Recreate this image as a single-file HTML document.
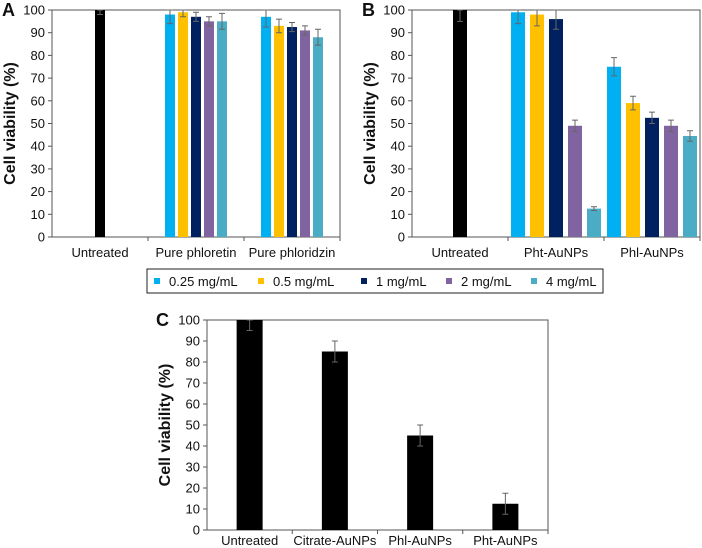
<!DOCTYPE html>
<html><head><meta charset="utf-8"><style>
body{margin:0;background:#fff;}
svg{display:block;font-family:"Liberation Sans",Arial,sans-serif;}
</style></head><body>
<svg id="fig" width="702" height="548" viewBox="0 0 702 548" xmlns="http://www.w3.org/2000/svg"></svg>
<script>
const ticks=[0,10,20,30,40,50,60,70,80,90,100];
const concLabels=["0.25 mg/mL","0.5 mg/mL","1 mg/mL","2 mg/mL","4 mg/mL"];
const concColors=["#00b0f0","#ffc000","#002060","#8064a2","#4bacc6"];
const catsA=["Untreated","Pure phloretin","Pure phloridzin"];
const untreatedA=[100,2];
const phloretinA=[98,99,97,95,95];
const phloretinErrA=[4,2,2,2,3.5];
const phloridzinA=[97,93,92.5,91,88];
const phloridzinErrA=[4.5,3,2,2,3.5];
const catsB=["Untreated","Pht-AuNPs","Phl-AuNPs"];
const untreatedB=[100,5];
const phtB=[99,98,96,49,12.5];
const phtErrB=[5,5,4.5,2.5,0.8];
const phlB=[75,59,52.5,49,44.5];
const phlErrB=[4,3,2.5,2.5,2.3];
const catsC=["Untreated","Citrate-AuNPs","Phl-AuNPs","Pht-AuNPs"];
const valsC=[100,85,45,12.5];
const errsC=[5,5,5,5];

const NS="http://www.w3.org/2000/svg";
const svg=document.getElementById('fig');
function mk(tag,attrs,parent){const e=document.createElementNS(NS,tag);for(const k in attrs)e.setAttribute(k,attrs[k]);(parent||svg).appendChild(e);return e;}

function panel(p){
  const g=mk('g',{});
  
  
  const y=v=>p.bottom-(v/100)*(p.bottom-p.top);
  const cw=(p.right-p.left)/p.cats.length;
  const fr=mk('rect',{x:p.left,y:p.top,width:p.right-p.left,height:p.bottom-p.top,fill:'none',stroke:'#555','stroke-width':1},g);
  
  
  ticks.forEach(t=>{
    const tl=mk('line',{x1:p.left-4,x2:p.left,y1:y(t),y2:y(t),stroke:'#555'},g);
    
    
    const tx=mk('text',{x:p.left-7,y:y(t)+4.5,'text-anchor':'end','font-size':13,fill:'#111'},g);
    tx.textContent=t;
    
    
  });
  p.cats.forEach((c,i)=>{
    const xt=mk('line',{x1:p.left+cw*(i+1),x2:p.left+cw*(i+1),y1:p.bottom,y2:p.bottom+4,stroke:'#555'},g);
    
    
    const lb=mk('text',{x:p.left+cw*(i+0.5),y:p.bottom+p.labOff,'text-anchor':'middle','font-size':13,fill:'#111'},g);
    lb.textContent=c;
    
    
  });
  const yt=mk('text',{x:0,y:0,'text-anchor':'middle','font-size':16,'font-weight':'bold',fill:'#111',transform:`translate(${p.left-37},${(p.top+p.bottom)/2}) rotate(-90)`},g);
  yt.textContent='Cell viability (%)';
  
  
  const pl=mk('text',{x:p.letterX,y:p.top+6,'font-size':18,'font-weight':'bold',fill:'#111'},g);
  pl.textContent=p.id;
  
  
  function bar(cx,w,v,e,color){
    const r=mk('rect',{x:cx-w/2,y:y(v),width:w,height:p.bottom-y(v),fill:color},g);
    
    
    const top=Math.min(100,v+e);
    const eb=mk('path',{d:`M${cx},${y(v-e)}V${y(top)}M${cx-3},${y(v-e)}h6M${cx-3},${y(top)}h6`,stroke:'#666','stroke-width':1,fill:'none'},g);
    
    
  }
  p.series.forEach((s,i)=>{
    const cx0=p.left+cw*(i+0.5);
    if(s.single){bar(cx0,p.bw1,s.v,s.e,'#000');}
    else{
      s.v.forEach((v,j)=>bar(cx0+(j-2)*p.pitch,p.bw,v,s.e[j],concColors[j]));
    }
  });
}
panel({id:'A',left:52,right:340,top:10,bottom:237,letterX:2,labOff:20,cats:catsA,bw1:10,bw:10,pitch:13,
  series:[{single:true,v:untreatedA[0],e:untreatedA[1]},{v:phloretinA,e:phloretinErrA},{v:phloridzinA,e:phloridzinErrA}]});
panel({id:'B',left:412,right:700,top:10,bottom:237,letterX:362,labOff:20,cats:catsB,bw1:14,bw:14,pitch:19,
  series:[{single:true,v:untreatedB[0],e:untreatedB[1]},{v:phtB,e:phtErrB},{v:phlB,e:phlErrB}]});
panel({id:'C',left:207,right:548,top:320,bottom:530,letterX:156,labOff:15,cats:catsC,bw1:26,bw:26,pitch:0,
  series:valsC.map((v,i)=>({single:true,v:v,e:errsC[i]}))});

const lg=mk('g',{});


const lbx=mk('rect',{x:147,y:269,width:456,height:24,fill:'#fff',stroke:'#222','stroke-width':1},lg);


const legX=[154,258,361,446,531];
concLabels.forEach((l,i)=>{
  const sw=mk('rect',{x:legX[i],y:278,width:6,height:6,fill:concColors[i]},lg);
  
  
  const t=mk('text',{x:legX[i]+15,y:286,'font-size':13,fill:'#111'},lg);
  t.textContent=l;
  
  
});
</script>
</body></html>
